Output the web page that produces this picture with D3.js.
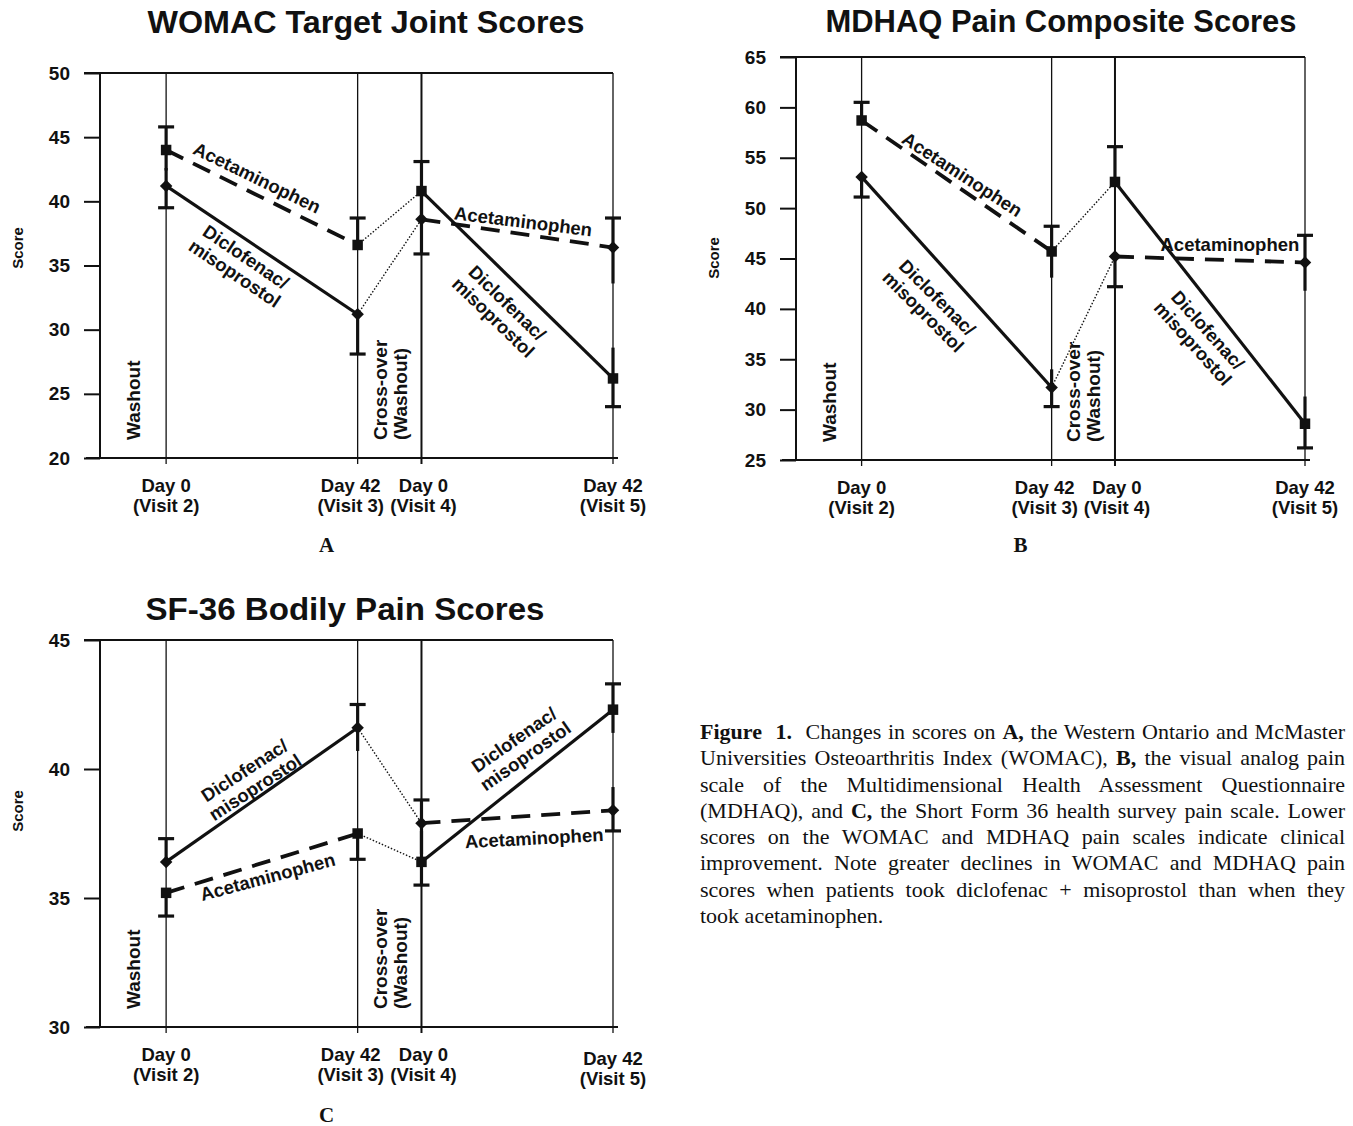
<!DOCTYPE html>
<html>
<head>
<meta charset="utf-8">
<script src="https://cdn.jsdelivr.net/npm/d3@7"></script>
<style>
  body { margin: 0; background: #fff; }
  #fig { position: relative; width: 1353px; height: 1126px; }
  svg { position: absolute; left: 0; top: 0; }
  #caption {
    position: absolute; left: 700px; top: 719px; width: 645px;
    font-family: "Liberation Serif", "Times New Roman", serif;
    font-size: 22px; line-height: 26.3px; color: #111;
  }
  #caption div { text-align: justify; text-align-last: justify; white-space: nowrap; }
  #caption div.last { text-align-last: left; }
</style>
</head>
<body>
<div id="fig">
  <svg id="chart" width="1353" height="1126"></svg>
  <div id="caption"></div>
</div>
<script>
const visitDays = [0, 42, 56, 98];
const visitTop = ['Day 0', 'Day 42', 'Day 0', 'Day 42'];
const visitBottom = ['(Visit 2)', '(Visit 3)', '(Visit 4)', '(Visit 5)'];

// squares: acetaminophen first, then diclofenac/misoprostol
// diamonds: diclofenac/misoprostol first, then acetaminophen
const womacTicks = [20, 25, 30, 35, 40, 45, 50];
const womacSquare = [44.0, 36.6, 40.8, 26.2];
const womacSquareHi = [45.8, 38.7, 43.1, 28.6];
const womacSquareLo = [42.4, null, 38.8, 24.0];
const womacDiamond = [41.2, 31.2, 38.6, 36.4];
const womacDiamondHi = [42.6, null, 40.6, 38.7];
const womacDiamondLo = [39.5, 28.1, 35.9, 33.6];

const mdhaqTicks = [25, 30, 35, 40, 45, 50, 55, 60, 65];
const mdhaqSquare = [58.7, 45.7, 52.6, 28.6];
const mdhaqSquareHi = [60.5, 48.2, 56.1, 31.3];
const mdhaqSquareLo = [null, 43.1, null, 26.2];
const mdhaqDiamond = [53.1, 32.2, 45.2, 44.6];
const mdhaqDiamondHi = [null, 34.0, null, 47.3];
const mdhaqDiamondLo = [51.1, 30.3, 42.2, 41.8];

const sf36Ticks = [30, 35, 40, 45];
const sf36Square = [35.2, 37.5, 36.4, 42.3];
const sf36SquareHi = [null, null, 37.6, 43.3];
const sf36SquareLo = [34.3, 36.5, 35.5, 41.4];
const sf36Diamond = [36.4, 41.6, 37.9, 38.4];
const sf36DiamondHi = [37.3, 42.5, 38.8, 39.3];
const sf36DiamondLo = [null, 40.7, 36.7, 37.6];

const captionLines = [
  '<b>Figure&nbsp; 1.</b>&nbsp; Changes in scores on <b>A,</b> the Western Ontario and McMaster',
  'Universities Osteoarthritis Index (WOMAC), <b>B,</b> the visual analog pain',
  'scale of the Multidimensional Health Assessment Questionnaire',
  '(MDHAQ), and <b>C,</b> the Short Form 36 health survey pain scale. Lower',
  'scores on the WOMAC and MDHAQ pain scales indicate clinical',
  'improvement. Note greater declines in WOMAC and MDHAQ pain',
  'scores when patients took diclofenac + misoprostol than when they',
  'took acetaminophen.'
];

const panels = [
  {
    title: 'WOMAC Target Joint Scores', titleW: 437, letter: 'A', titleX: 366, titleY: 33, letterY: 552,
    left: 100, right: 613, top: 73, bottom: 458, scoreY: 248, domain: [20, 50], ticks: womacTicks,
    sq: womacSquare, sqHi: womacSquareHi, sqLo: womacSquareLo,
    di: womacDiamond, diHi: womacDiamondHi, diLo: womacDiamondLo,
    labels: [
      { text: ['Acetaminophen'], d: 19.9, v: 41.8, angle: 26 },
      { text: ['Diclofenac/', 'misoprostol'], d: 16.2, v: 35.0, angle: 34 },
      { text: ['Acetaminophen'], d: 78.3, v: 38.4, angle: 7 },
      { text: ['Diclofenac/', 'misoprostol'], d: 73.2, v: 31.5, angle: 44 }
    ]
  },
  {
    title: 'MDHAQ Pain Composite Scores', titleW: 471, letter: 'B', titleX: 1061, titleY: 32, letterY: 552,
    left: 796, right: 1305, top: 57, bottom: 460, scoreY: 258, domain: [25, 65], ticks: mdhaqTicks,
    sq: mdhaqSquare, sqHi: mdhaqSquareHi, sqLo: mdhaqSquareLo,
    di: mdhaqDiamond, diHi: mdhaqDiamondHi, diLo: mdhaqDiamondLo,
    labels: [
      { text: ['Acetaminophen'], d: 22.2, v: 53.3, angle: 33 },
      { text: ['Diclofenac/', 'misoprostol'], d: 15.1, v: 40.4, angle: 45 },
      { text: ['Acetaminophen'], d: 81.4, v: 46.3, angle: 0 },
      { text: ['Diclofenac/', 'misoprostol'], d: 74.8, v: 37.2, angle: 48 }
    ]
  },
  {
    title: 'SF-36 Bodily Pain Scores', titleW: 399, letter: 'C', titleX: 345, titleY: 620, letterY: 1122,
    left: 100, right: 613, top: 640, bottom: 1027, scoreY: 811, domain: [30, 45], ticks: sf36Ticks,
    sq: sf36Square, sqHi: sf36SquareHi, sqLo: sf36SquareLo,
    di: sf36Diamond, diHi: sf36DiamondHi, diLo: sf36DiamondLo,
    labels: [
      { text: ['Diclofenac/', 'misoprostol'], d: 18.4, v: 39.6, angle: -33 },
      { text: ['Acetaminophen'], d: 22.3, v: 35.8, angle: -15 },
      { text: ['Diclofenac/', 'misoprostol'], d: 77.6, v: 40.8, angle: -35 },
      { text: ['Acetaminophen'], d: 80.7, v: 37.3, angle: -3 }
    ]
  }
];

const font = '"Liberation Sans", Arial, Helvetica, sans-serif';
const ink = '#111';
const svg = d3.select('#chart');

d3.select('#caption').selectAll('div')
  .data(captionLines)
  .enter()
  .append('div')
  .attr('class', (d, i) => i === captionLines.length - 1 ? 'last' : null)
  .html(d => d);

function drawPanel(p) {
  const g = svg.append('g').attr('font-family', font).attr('fill', ink);
  const x = d3.scaleLinear().domain([-14.5, 98]).range([p.left, p.right]);
  const y = d3.scaleLinear().domain(p.domain).range([p.bottom, p.top]);

  g.append('text')
    .attr('x', p.titleX).attr('y', p.titleY)
    .attr('text-anchor', 'middle')
    .attr('font-size', 31).attr('font-weight', 'bold')
    .attr('textLength', p.titleW).attr('lengthAdjust', 'spacingAndGlyphs')
    .text(p.title);

  g.append('text')
    .attr('x', (p.left + p.right) / 2 - 30).attr('y', p.letterY)
    .attr('text-anchor', 'middle')
    .attr('font-family', '"Liberation Serif", "Times New Roman", serif')
    .attr('font-size', 21).attr('font-weight', 'bold')
    .text(p.letter);

  // visit lines
  g.selectAll('line.visit')
    .data(visitDays)
    .enter()
    .append('line')
    .attr('class', 'visit')
    .attr('x1', d => x(d)).attr('x2', d => x(d))
    .attr('y1', p.top).attr('y2', p.bottom + 6)
    .attr('stroke', ink)
    .attr('stroke-width', (d, i) => i === 2 ? 2 : 1.3);

  // left axis
  const yAxis = d3.axisLeft(y).tickValues(p.ticks).tickSize(16).tickPadding(14);
  const ya = g.append('g').attr('transform', `translate(${p.left},0)`).call(yAxis);
  ya.select('.domain').remove();
  ya.selectAll('line').attr('stroke', ink).attr('stroke-width', 2);
  ya.selectAll('text')
    .attr('font-family', font).attr('font-size', 19).attr('font-weight', 'bold').attr('fill', ink);

  g.append('line')
    .attr('x1', p.left).attr('x2', p.left).attr('y1', p.top).attr('y2', p.bottom)
    .attr('stroke', ink).attr('stroke-width', 2);
  g.append('line')
    .attr('x1', p.left - 16).attr('x2', p.right).attr('y1', p.top).attr('y2', p.top)
    .attr('stroke', ink).attr('stroke-width', 2);
  g.append('line')
    .attr('x1', p.left - 14).attr('x2', p.right + 5).attr('y1', p.bottom).attr('y2', p.bottom)
    .attr('stroke', ink).attr('stroke-width', 2);

  g.append('text')
    .attr('transform', `translate(${p.left - 77},${p.scoreY}) rotate(-90)`)
    .attr('text-anchor', 'middle')
    .attr('font-size', 15).attr('font-weight', 'bold')
    .text('Score');

  // visit labels
  const shift = [0, -7, 2, 0];
  const vl = g.selectAll('text.vlab')
    .data(visitDays)
    .enter()
    .append('text')
    .attr('class', 'vlab')
    .attr('text-anchor', 'middle')
    .attr('font-size', 18.5).attr('font-weight', 'bold')
    .attr('transform', (d, i) => `translate(${x(d) + shift[i]},${p.bottom + 34 + (p.letter === 'C' && i === 3 ? 4 : 0)})`);
  vl.append('tspan').attr('x', 0).attr('y', 0).text((d, i) => visitTop[i]);
  vl.append('tspan').attr('x', 0).attr('y', 20).text((d, i) => visitBottom[i]);

  // period annotations
  const washX = (p.left + x(visitDays[0])) / 2;
  g.append('text')
    .attr('transform', `translate(${washX + 7},${p.bottom - 18}) rotate(-90)`)
    .attr('font-size', 19).attr('font-weight', 'bold')
    .text('Washout');
  const crossX = (x(visitDays[1]) + x(visitDays[2])) / 2;
  const cross = g.append('text')
    .attr('transform', `translate(${crossX - 3},${p.bottom - 18}) rotate(-90)`)
    .attr('font-size', 19).attr('font-weight', 'bold');
  cross.append('tspan').attr('x', 0).attr('y', 0).text('Cross-over');
  cross.append('tspan').attr('x', 0).attr('y', 20).text('(Washout)');

  const pts = (vals, idx) => idx.map(i => [x(visitDays[i]), y(vals[i])]);
  const line = d3.line();

  // crossover dotted links
  [p.sq, p.di].forEach(vals => {
    g.append('path')
      .attr('d', line(pts(vals, [1, 2])))
      .attr('fill', 'none').attr('stroke', ink)
      .attr('stroke-width', 1.4).attr('stroke-dasharray', '1.5,1.8');
  });

  // diclofenac/misoprostol: solid; acetaminophen: dashed
  g.append('path').attr('d', line(pts(p.di, [0, 1])))
    .attr('fill', 'none').attr('stroke', ink).attr('stroke-width', 3.2);
  g.append('path').attr('d', line(pts(p.sq, [2, 3])))
    .attr('fill', 'none').attr('stroke', ink).attr('stroke-width', 3.2);
  g.append('path').attr('d', line(pts(p.sq, [0, 1])))
    .attr('fill', 'none').attr('stroke', ink).attr('stroke-width', 3.8).attr('stroke-dasharray', '19,11');
  g.append('path').attr('d', line(pts(p.di, [2, 3])))
    .attr('fill', 'none').attr('stroke', ink).attr('stroke-width', 3.8).attr('stroke-dasharray', '19,11');

  // error bars
  const series = [
    { m: p.sq, hi: p.sqHi, lo: p.sqLo, other: p.di },
    { m: p.di, hi: p.diHi, lo: p.diLo, other: p.sq }
  ];
  series.forEach(s => {
    visitDays.forEach((d, i) => {
      const cx = x(d);
      [s.hi[i], s.lo[i]].forEach(end => {
        if (end === null) return;
        g.append('line')
          .attr('x1', cx).attr('x2', cx)
          .attr('y1', y(s.m[i])).attr('y2', y(end))
          .attr('stroke', ink).attr('stroke-width', 3.2);
        const a = Math.min(s.m[i], s.other[i]);
        const b = Math.max(s.m[i], s.other[i]);
        if (end > a && end < b) return;
        g.append('line')
          .attr('x1', cx - 8).attr('x2', cx + 8)
          .attr('y1', y(end)).attr('y2', y(end))
          .attr('stroke', ink).attr('stroke-width', 3.2);
      });
    });
  });

  // markers
  const sym = d3.symbol().type(d3.symbolSquare).size(110);
  const dsym = d3.symbol().type(d3.symbolSquare).size(78);
  g.selectAll('path.sq')
    .data(p.sq)
    .enter()
    .append('path')
    .attr('class', 'sq')
    .attr('d', sym)
    .attr('transform', (v, i) => `translate(${x(visitDays[i])},${y(v)})`);
  g.selectAll('path.di')
    .data(p.di)
    .enter()
    .append('path')
    .attr('class', 'di')
    .attr('d', dsym)
    .attr('transform', (v, i) => `translate(${x(visitDays[i])},${y(v)}) rotate(45)`);

  // series labels
  p.labels.forEach(l => {
    const t = g.append('text')
      .attr('transform', `translate(${x(l.d)},${y(l.v)}) rotate(${l.angle})`)
      .attr('text-anchor', 'middle')
      .attr('font-size', 18.5).attr('font-weight', 'bold');
    const off = (l.text.length - 1) * 10;
    l.text.forEach((s, k) => {
      t.append('tspan')
        .attr('x', 0)
        .attr('y', k * 20 - off + 6)
        .text(s);
    });
  });
}

panels.forEach(drawPanel);
</script>
</body>
</html>
